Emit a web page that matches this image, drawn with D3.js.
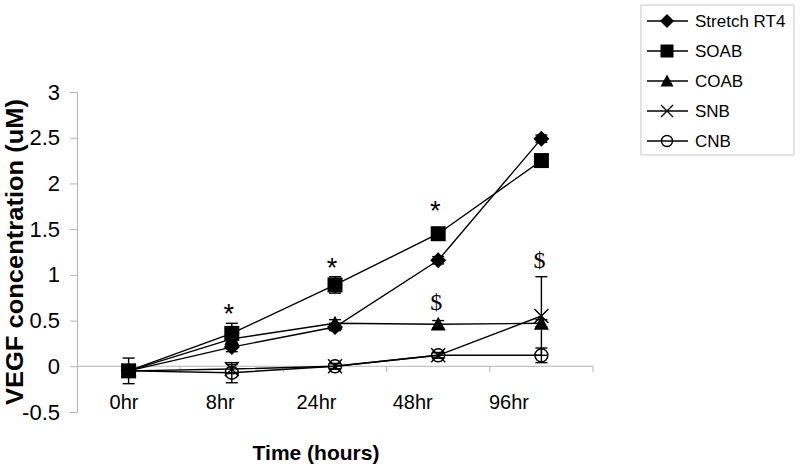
<!DOCTYPE html>
<html>
<head>
<meta charset="utf-8">
<style>
  body { margin: 0; background: #fff; }
  text { font-family: "Liberation Sans", Arial, sans-serif; }
</style>
</head>
<body>
<svg width="800" height="470"></svg>
<script src="https://d3js.org/d3.v7.min.js"></script>
<script>

    // categories and values
    var times = ["0hr", "8hr", "24hr", "48hr", "96hr"];
    var seriesNames = ["Stretch RT4", "SOAB", "COAB", "SNB", "CNB"];
    var markers = ["diamond", "square", "triangle", "cross", "circle"];

    var stretchVals = [-0.05, 0.21, 0.43, 1.16, 2.49];
    var soabVals    = [-0.05, 0.36, 0.89, 1.45, 2.25];
    var coabVals    = [-0.05, 0.30, 0.47, 0.46, 0.47];
    var snbVals     = [-0.05, -0.03, 0.00, 0.12, 0.55];
    var cnbVals     = [-0.05, -0.07, 0.00, 0.12, 0.12];

    var stretchErr = [0.05, 0.05, 0.04, 0.04, 0.04];
    var soabErr    = [0.14, 0.11, 0.09, 0.05, 0.05];
    var coabErr    = [0.05, 0.05, 0.04, 0.04, 0.04];
    var snbErr     = [0.05, 0.05, 0.03, 0.03, 0.43];
    var cnbErr     = [0.05, 0.11, 0.03, 0.03, 0.08];

    var yTicks = [-0.5, 0, 0.5, 1, 1.5, 2, 2.5, 3];

    // significance marks: category, height in data units
    var starMarks = [["8hr", 0.64], ["24hr", 1.14], ["48hr", 1.76]];
    var dollarMarks = [["48hr", 0.70], ["96hr", 1.16]];

    var allVals = [stretchVals, soabVals, coabVals, snbVals, cnbVals];
    var allErr = [stretchErr, soabErr, coabErr, snbErr, cnbErr];

    var series = seriesNames.map(function(name, i) {
        return {
            name: name,
            marker: markers[i],
            points: times.map(function(t, j) {
                return { t: t, v: allVals[i][j], e: allErr[i][j] };
            })
        };
    });

    var svg = d3.select("svg");
    var axisColor = "#b4b4b4";

    var x = d3.scaleBand().domain(times).range([77, 593]);
    var tickX = d3.scalePoint().domain(times).range([124, 509]);
    var y = d3.scaleLinear().domain([-0.5, 3]).range([412, 92]);
    var cx = function(t) { return x(t) + x.bandwidth() / 2; };

    // y axis
    var yAxis = svg.append("g")
        .attr("transform", "translate(77,0)")
        .call(d3.axisLeft(y).tickValues(yTicks).tickSize(7).tickPadding(10)
            .tickFormat(function(d) { return String(d); }));
    yAxis.select(".domain").attr("stroke", axisColor);
    yAxis.selectAll(".tick line").attr("stroke", axisColor);
    yAxis.selectAll(".tick text")
        .attr("font-family", "Liberation Sans, Arial, sans-serif")
        .attr("font-size", 22)
        .attr("fill", "#000");

    // x axis along zero
    var xg = svg.append("g");
    xg.append("line")
        .attr("x1", x.range()[0]).attr("x2", x.range()[1])
        .attr("y1", y(0)).attr("y2", y(0))
        .attr("stroke", axisColor);
    xg.selectAll(".xt")
        .data(times)
        .enter().append("line")
        .attr("x1", function(d) { return x(d) + x.bandwidth(); })
        .attr("x2", function(d) { return x(d) + x.bandwidth(); })
        .attr("y1", y(0)).attr("y2", y(0) + 6)
        .attr("stroke", axisColor);
    xg.selectAll(".xl")
        .data(times)
        .enter().append("text")
        .attr("x", function(d) { return tickX(d); })
        .attr("y", 409)
        .attr("text-anchor", "middle")
        .attr("font-size", 20)
        .text(function(d) { return d; });

    // axis titles
    svg.append("text")
        .attr("transform", "translate(23,252) rotate(-90)")
        .attr("text-anchor", "middle")
        .attr("font-weight", "bold")
        .attr("font-size", 24)
        .attr("textLength", 306)
        .attr("lengthAdjust", "spacingAndGlyphs")
        .text("VEGF concentration (uM)");

    svg.append("text")
        .attr("x", 316).attr("y", 460)
        .attr("text-anchor", "middle")
        .attr("font-weight", "bold")
        .attr("font-size", 21)
        .text("Time (hours)");

    // marker shapes
    function markerPath(type, s) {
        var h = s / 2;
        if (type === "diamond") return "M0," + (-h) + "L" + h + ",0L0," + h + "L" + (-h) + ",0Z";
        if (type === "square") return "M" + (-h) + "," + (-h) + "h" + s + "v" + s + "h" + (-s) + "Z";
        if (type === "triangle") return "M0," + (-h) + "L" + h + "," + (h * 0.85) + "L" + (-h) + "," + (h * 0.85) + "Z";
        return "M" + (-h) + "," + (-h) + "L" + h + "," + h + "M" + h + "," + (-h) + "L" + (-h) + "," + h;
    }

    function drawMarker(g, type, s) {
        if (type === "cross") {
            g.append("path").attr("d", markerPath(type, s))
                .attr("fill", "none").attr("stroke", "#000").attr("stroke-width", 1.4);
        } else if (type === "circle") {
            g.append("circle").attr("r", s / 2)
                .attr("fill", "none").attr("stroke", "#000").attr("stroke-width", 1.4);
        } else {
            g.append("path").attr("d", markerPath(type, s)).attr("fill", "#000");
        }
    }

    var sizes = { diamond: 16, square: 15, triangle: 15, cross: 14, circle: 13 };

    // error bars
    var eg = svg.append("g").attr("stroke", "#000").attr("stroke-width", 1.4);
    series.forEach(function(s) {
        s.points.forEach(function(p) {
            var px = cx(p.t);
            eg.append("line").attr("x1", px).attr("x2", px)
                .attr("y1", y(p.v - p.e)).attr("y2", y(p.v + p.e));
            [p.v - p.e, p.v + p.e].forEach(function(v) {
                eg.append("line").attr("x1", px - 6).attr("x2", px + 6)
                    .attr("y1", y(v)).attr("y2", y(v));
            });
        });
    });

    // lines
    var line = d3.line()
        .x(function(d) { return cx(d.t); })
        .y(function(d) { return y(d.v); });

    svg.selectAll(".series")
        .data(series)
        .enter().append("path")
        .attr("d", function(d) { return line(d.points); })
        .attr("fill", "none")
        .attr("stroke", "#000")
        .attr("stroke-width", 1.4);

    // markers
    series.forEach(function(s) {
        s.points.forEach(function(p) {
            var g = svg.append("g").attr("transform", "translate(" + cx(p.t) + "," + y(p.v) + ")");
            drawMarker(g, s.marker, sizes[s.marker]);
        });
    });

    // significance marks
    svg.selectAll(".star")
        .data(starMarks)
        .enter().append("text")
        .attr("x", function(d) { return cx(d[0]) - 3; })
        .attr("y", function(d) { return y(d[1]) + 15; })
        .attr("text-anchor", "middle")
        .attr("font-size", 27)
        .text("*");

    svg.selectAll(".dollar")
        .data(dollarMarks)
        .enter().append("text")
        .attr("x", function(d) { return cx(d[0]) - 2; })
        .attr("y", function(d) { return y(d[1]) + 8; })
        .attr("text-anchor", "middle")
        .style("font-family", "Liberation Serif, Times New Roman, serif")
        .attr("font-size", 24)
        .attr("fill", "#000")
        .text("$");

    // legend
    var legend = svg.append("g");
    legend.append("rect")
        .attr("x", 641).attr("y", 5)
        .attr("width", 153).attr("height", 150)
        .attr("fill", "#fff").attr("stroke", "#c8c8c8");

    var items = legend.selectAll(".item")
        .data(series)
        .enter().append("g")
        .attr("transform", function(d, i) { return "translate(0," + (21 + i * 30) + ")"; });
    items.append("line")
        .attr("x1", 647).attr("x2", 688)
        .attr("stroke", "#000").attr("stroke-width", 1.5);
    items.each(function(d) {
        var g = d3.select(this).append("g").attr("transform", "translate(667,0)");
        drawMarker(g, d.marker, sizes[d.marker] - 2);
    });
    items.append("text")
        .attr("x", 695).attr("y", 6)
        .attr("font-size", 17)
        .text(function(d) { return d.name; });

</script>
</body>
</html>
